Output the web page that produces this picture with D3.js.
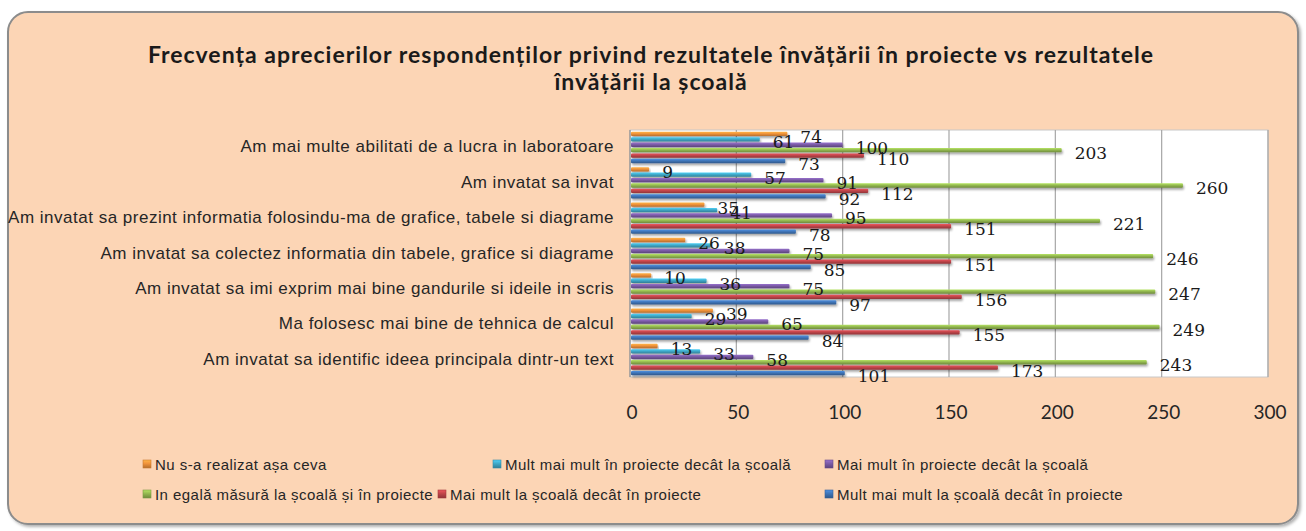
<!DOCTYPE html>
<html>
<head>
<meta charset="utf-8">
<script src="https://d3js.org/d3.v7.min.js"></script>
<style>
  body { margin: 0; background: #fff; }
  svg { display: block; }
</style>
</head>
<body>
<script>
  // categories, top to bottom as drawn
  var categories = [
    "Am mai multe abilitati de a lucra in laboratoare",
    "Am invatat sa invat",
    "Am invatat sa prezint informatia folosindu-ma de grafice, tabele si diagrame",
    "Am invatat sa  colectez informatia din tabele, grafice si diagrame",
    "Am invatat sa imi exprim mai bine gandurile si ideile in scris",
    "Ma folosesc mai bine de tehnica de calcul",
    "Am invatat sa identific ideea principala dintr-un text"
  ];
  var seriesNames = [
    "Nu s-a realizat așa ceva",
    "Mult mai mult în proiecte decât la școală",
    "Mai mult în proiecte decât la școală",
    "In egală măsură la școală și în proiecte",
    "Mai mult la școală decât în proiecte",
    "Mult mai  mult la școală decât în proiecte"
  ];
  var nuSaRealizat   = [74, 9, 35, 26, 10, 39, 13];
  var multMaiProiect = [61, 57, 41, 38, 36, 29, 33];
  var maiMultProiect = [100, 91, 95, 75, 75, 65, 58];
  var egalaMasura    = [203, 260, 221, 246, 247, 249, 243];
  var maiMultScoala  = [110, 112, 151, 151, 156, 155, 173];
  var multMaiScoala  = [73, 92, 78, 85, 97, 84, 101];
  var xTicks = [0, 50, 100, 150, 200, 250, 300];
  var titleLines = [
    "Frecvența aprecierilor respondenților privind rezultatele învățării în proiecte vs rezultatele",
    "învățării la școală"
  ];

  var seriesValues = [nuSaRealizat, multMaiProiect, maiMultProiect, egalaMasura, maiMultScoala, multMaiScoala];
  var colors = ["#f0923a", "#40a9c8", "#7b5ba6", "#93b850", "#c0454a", "#3f75b8"];

  var W = 1306, H = 531;
  var plot = {left: 630, right: 1268, top: 130, bottom: 377};

  var svg = d3.select("body").append("svg")
      .attr("width", W)
      .attr("height", H);

  var defs = svg.append("defs");

  var shadow = defs.append("filter").attr("id", "shadow")
      .attr("x", "-5%").attr("y", "-50%").attr("width", "110%").attr("height", "300%");
  shadow.append("feDropShadow")
      .attr("dx", 1).attr("dy", 2).attr("stdDeviation", 1.2)
      .attr("flood-color", "#000").attr("flood-opacity", 0.35);

  var frameShadow = defs.append("filter").attr("id", "frameShadow")
      .attr("x", "-2%").attr("y", "-2%").attr("width", "104%").attr("height", "104%");
  frameShadow.append("feDropShadow")
      .attr("dx", 2).attr("dy", 2).attr("stdDeviation", 1.5)
      .attr("flood-color", "#000").attr("flood-opacity", 0.3);

  var grads = defs.selectAll("linearGradient")
    .data(colors)
    .enter().append("linearGradient")
      .attr("id", function(d, i) { return "g" + i; })
      .attr("x1", 0).attr("y1", 0).attr("x2", 0).attr("y2", 1);
  grads.append("stop").attr("offset", "0%")
      .attr("stop-color", function(d) { return d3.color(d).brighter(0.6); });
  grads.append("stop").attr("offset", "45%")
      .attr("stop-color", function(d) { return d; });
  grads.append("stop").attr("offset", "100%")
      .attr("stop-color", function(d) { return d3.color(d).darker(0.8); });

  // chart frame
  svg.append("rect")
      .attr("x", 8).attr("y", 12)
      .attr("width", 1290).attr("height", 512)
      .attr("rx", 20).attr("ry", 20)
      .attr("fill", "#fcd5b5")
      .attr("stroke", "#8c8c8c")
      .attr("stroke-width", 2)
      .attr("filter", "url(#frameShadow)");

  // title
  svg.append("g").selectAll("text")
    .data(titleLines)
    .enter().append("text")
      .attr("x", 651)
      .attr("y", function(d, i) { return 63 + i * 27; })
      .attr("text-anchor", "middle")
      .style("font-family", "Lato, 'Open Sans', sans-serif")
      .style("font-weight", "bold")
      .style("font-size", "23px")
      .style("letter-spacing", "1px")
      .style("fill", "#1a1a1a")
      .text(function(d) { return d; });

  var x = d3.scaleLinear().domain([0, 300]).range([plot.left, plot.right]);
  var y = d3.scaleBand().domain(categories).range([plot.top, plot.bottom]).paddingInner(0.05).paddingOuter(0.02);
  var ys = d3.scaleBand().domain(d3.range(seriesValues.length)).range([0, y.bandwidth()]).padding(0.2);

  // plot area
  svg.append("rect")
      .attr("x", plot.left).attr("y", plot.top)
      .attr("width", plot.right - plot.left).attr("height", plot.bottom - plot.top)
      .attr("fill", "#fff")
      .attr("stroke", "#c8c8c8");

  svg.append("g").selectAll("line")
    .data(xTicks)
    .enter().append("line")
      .attr("x1", function(d) { return x(d); })
      .attr("x2", function(d) { return x(d); })
      .attr("y1", plot.top).attr("y2", plot.bottom)
      .attr("stroke", function(d) { return d === 0 ? "#8c8c8c" : "#a6a6a6"; })
      .attr("stroke-width", 1.2);

  // x tick labels
  svg.append("g").selectAll("text")
    .data(xTicks)
    .enter().append("text")
      .attr("x", function(d) { return x(d) + 2; })
      .attr("y", 419)
      .attr("text-anchor", "middle")
      .style("font-family", "Lato, sans-serif")
      .style("font-size", "19px")
      .style("fill", "#262626")
      .text(function(d) { return d; });

  // category labels
  svg.append("g").selectAll("text")
    .data(categories)
    .enter().append("text")
      .attr("x", 614)
      .attr("y", function(d) { return y(d) + y.bandwidth() / 2 + 5; })
      .attr("text-anchor", "end")
      .style("font-family", "'Liberation Sans', Arial, sans-serif")
      .style("font-size", "17px")
      .style("letter-spacing", "0.5px")
      .style("fill", "#262626")
      .text(function(d) { return d; });

  // bars
  var groups = svg.append("g").selectAll("g")
    .data(seriesValues)
    .enter().append("g")
      .attr("fill", function(d, i) { return "url(#g" + i + ")"; });

  groups.each(function(vals, si) {
    d3.select(this).selectAll("rect")
      .data(vals)
      .enter().append("rect")
        .attr("x", plot.left + 1)
        .attr("y", function(v, ci) { return y(categories[ci]) + ys(si); })
        .attr("width", function(v) { return x(v) - plot.left - 1; })
        .attr("height", ys.bandwidth())
        .attr("rx", 1)
        .attr("filter", "url(#shadow)");
  });

  // value labels
  groups.each(function(vals, si) {
    d3.select(this.parentNode).append("g").selectAll("text")
      .data(vals)
      .enter().append("text")
        .attr("x", function(v) { return x(v) + 13; })
        .attr("y", function(v, ci) { return y(categories[ci]) + ys(si) + ys.bandwidth() / 2 + 3; })
        .attr("dy", "0.35em")
        .style("font-family", "'DejaVu Serif', serif")
        .style("font-size", "17px")
        .style("fill", "#1a1a1a")
        .text(function(v) { return v; });
  });

  // legend
  var legendPos = [[147, 464], [497, 464], [829, 464], [147, 494], [442, 494], [829, 494]];
  var legend = svg.append("g").selectAll("g")
    .data(seriesNames)
    .enter().append("g")
      .attr("transform", function(d, i) { return "translate(" + legendPos[i][0] + "," + legendPos[i][1] + ")"; });
  legend.append("rect")
      .attr("x", -4).attr("y", -4)
      .attr("width", 8).attr("height", 8)
      .attr("fill", function(d, i) { return "url(#g" + i + ")"; })
      .attr("stroke", function(d, i) { return d3.color(colors[i]).darker(0.5); })
      .attr("stroke-width", 0.6);
  legend.append("text")
      .attr("x", 8)
      .attr("y", 5.5)
      .style("font-family", "'Liberation Sans', Arial, sans-serif")
      .style("font-size", "15px")
      .style("letter-spacing", "0.45px")
      .style("fill", "#262626")
      .text(function(d) { return d; });
</script>
</body>
</html>
